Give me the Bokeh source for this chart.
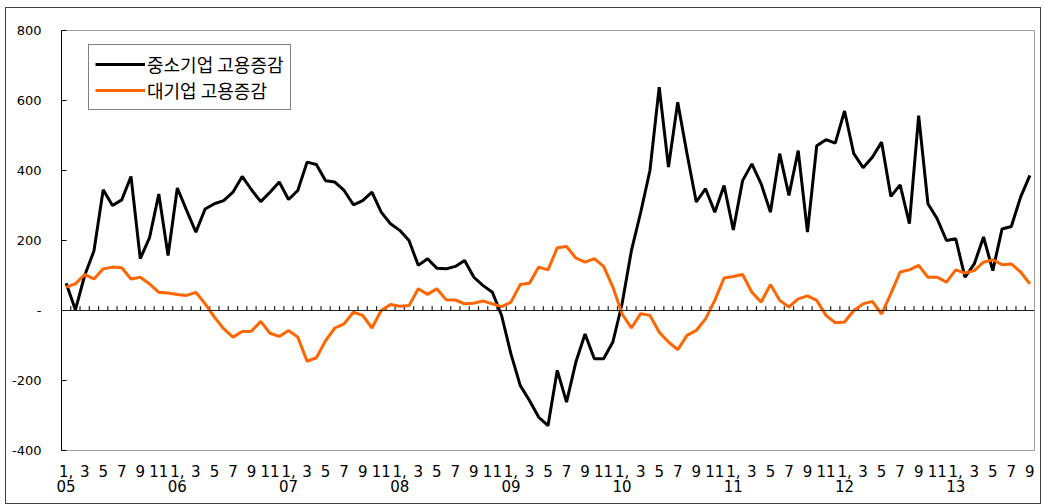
from bokeh.plotting import figure
from bokeh.models import Range1d, FixedTicker, LinearAxis, Span
from bokeh.embed import file_html
from bokeh.resources import INLINE

years = ["05", "06", "07", "08", "09", "10", "11", "12", "13"]
month_labels = ["1,", "3", "5", "7", "9", "11"]
y_ticks = [-400, -200, 0, 200, 400, 600, 800]
y_tick_labels = ["-400", "-200", "-", "200", "400", "600", "800"]

# 중소기업 고용증감 (monthly, Jan 2005 - Sep 2013)
sme = [
    78, 2, 100, 170, 345, 300, 316, 383, 148, 208, 333, 157,
    350, 286, 224, 290, 305, 314, 338, 383, 345, 311, 338, 367,
    317, 343, 424, 417, 371, 367, 343, 302, 314, 338, 281, 248,
    229, 200, 129, 148, 121, 119, 126, 143, 95, 71, 52, -15,
    -124, -214, -257, -305, -329, -171, -262, -148, -67, -138, -138, -90,
    20, 171, 280, 400, 638, 410, 595, 448, 310, 348, 281, 357,
    230, 371, 419, 362, 281, 448, 329, 457, 224, 471, 488, 478,
    570, 448, 408, 438, 481, 326, 359, 248, 557, 305, 262, 200,
    205, 95, 133, 210, 114, 233, 240, 324, 386,
]
# 대기업 고용증감
large = [
    67, 76, 103, 90, 119, 124, 122, 90, 95, 76, 52, 50,
    46, 43, 52, 19, -19, -52, -76, -60, -59, -31, -65, -74,
    -57, -76, -145, -135, -86, -50, -38, -5, -14, -50, 0, 17,
    12, 14, 62, 46, 62, 31, 30, 19, 21, 27, 19, 11,
    24, 74, 78, 124, 116, 179, 183, 150, 138, 148, 126, 67,
    -10, -50, -9, -14, -62, -90, -112, -71, -57, -24, 29, 93,
    97, 103, 52, 24, 74, 29, 10, 33, 42, 29, -14, -35,
    -33, 0, 19, 26, -10, 48, 110, 116, 129, 95, 95, 81,
    116, 107, 114, 138, 145, 131, 133, 110, 76,
]

n = len(sme)
xs = list(range(n))

p = figure(width=1036, height=497, output_backend="svg", toolbar_location=None,
           x_range=Range1d(-0.5, n - 0.5), y_range=Range1d(-400, 800),
           min_border_left=56, min_border_right=7, min_border_top=23, min_border_bottom=54,
           x_axis_location=None)
p.styles = {"margin-left": "5px", "margin-top": "7px",
            "background-color": "white",
            "box-shadow": "inset 0 0 0 1px #404040"}
p.background_fill_color = "white"
p.border_fill_alpha = 0
p.outline_line_color = "#a0a0a0"
p.outline_line_width = 1
p.xgrid.visible = False
p.ygrid.visible = False

# Y axis
yax = p.yaxis[0]
yax.ticker = FixedTicker(ticks=y_ticks)
yax.major_label_overrides = {t: l for t, l in zip(y_ticks, y_tick_labels)}
yax.minor_tick_line_color = None
yax.major_tick_in = 5
yax.major_tick_out = 0
yax.major_label_standoff = 20
yax.axis_line_color = "black"
yax.major_tick_line_color = "black"
yax.major_label_text_font = "DejaVu Sans"
yax.major_label_text_font_size = "13px"
yax.major_label_text_color = "black"

# Month axis (bottom)
month_ticks = [i for i in xs if i % 2 == 0]
max_ = LinearAxis(ticker=FixedTicker(ticks=month_ticks),
                  major_label_overrides={i: month_labels[(i % 12) // 2] for i in month_ticks})
max_.axis_line_color = "#a0a0a0"
max_.major_tick_line_color = None
max_.minor_tick_line_color = None
max_.major_tick_out = 0
max_.major_tick_in = 0
max_.major_label_standoff = 14
max_.major_label_text_font = "DejaVu Sans"
max_.major_label_text_font_size = "15px"
max_.major_label_text_color = "black"
p.add_layout(max_, "below")

# Year axis (bottom, second row)
year_ticks = [12 * k for k in range(len(years))]
yrax = LinearAxis(ticker=FixedTicker(ticks=year_ticks),
                  major_label_overrides={t: y for t, y in zip(year_ticks, years)})
yrax.axis_line_color = None
yrax.major_tick_line_color = None
yrax.minor_tick_line_color = None
yrax.major_tick_out = 0
yrax.major_tick_in = 0
yrax.major_label_standoff = 0
yrax.major_label_text_font = "DejaVu Sans"
yrax.major_label_text_font_size = "15px"
yrax.major_label_text_color = "black"
p.add_layout(yrax, "below")

# Zero line with category tick marks
p.add_layout(Span(location=0, dimension="width", line_color="#202020", line_width=1.2))
bounds = [k + 0.5 for k in range(n - 1)]
p.segment(x0=bounds, y0=[0] * len(bounds), x1=bounds, y1=[12] * len(bounds),
          line_color="#202020", line_width=1.2)

p.line(xs, sme, line_color="black", line_width=3, legend_label="중소기업 고용증감")
p.line(xs, large, line_color="#FF6600", line_width=3, legend_label="대기업 고용증감")

lg = p.legend[0]
lg.location = (27, 340)
lg.border_line_color = "black"
lg.border_line_width = 1
lg.padding = 6
lg.spacing = 0
lg.margin = 0
lg.glyph_width = 50
lg.glyph_height = 16
lg.label_height = 16
lg.label_standoff = 2
lg.label_text_font = "Noto Sans CJK KR"
lg.label_text_font_size = "18px"
lg.label_text_line_height = 0.75
lg.label_text_color = "black"
lg.background_fill_alpha = 1

open("out.html", "w").write(file_html(p, INLINE))
